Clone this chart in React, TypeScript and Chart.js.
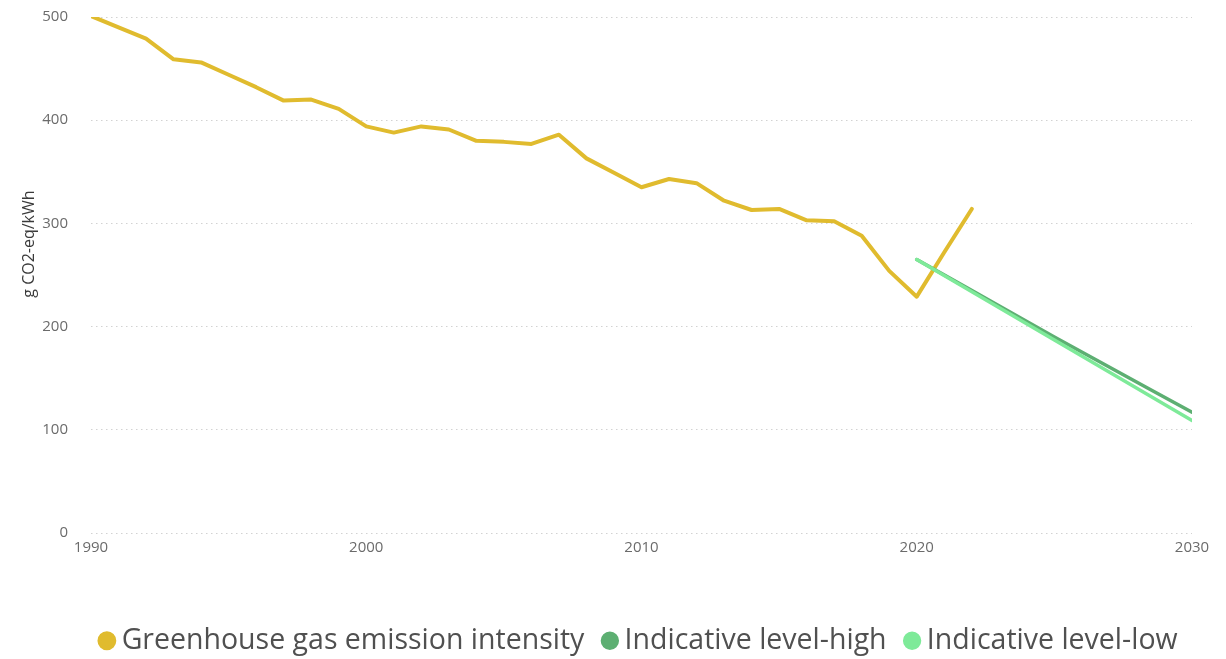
import React, { useEffect, useRef } from "react";
import { Chart, registerables } from "chart.js";

Chart.register(...registerables);

const years = [
  1990, 1991, 1992, 1993, 1994, 1995, 1996, 1997, 1998, 1999,
  2000, 2001, 2002, 2003, 2004, 2005, 2006, 2007, 2008, 2009,
  2010, 2011, 2012, 2013, 2014, 2015, 2016, 2017, 2018, 2019,
  2020, 2021, 2022,
];
const ghgIntensity = [
  501, 490, 479, 459, 456, 444, 432, 419, 420, 411,
  394, 388, 394, 391, 380, 379, 377, 386, 363, 349,
  335, 343, 339, 322, 313, 314, 303, 302, 288, 254,
  229, 272, 314,
];
const indicativeYears = [2020, 2025, 2030];
const indicativeHigh = [265, 190, 117];
const indicativeLow = [265, 187, 109];

const seriesLabels = [
  "Greenhouse gas emission intensity",
  "Indicative level-high",
  "Indicative level-low",
];
const xTickValues = [1990, 2000, 2010, 2020, 2030];
const yTitle = "g CO2-eq/kWh";

const COLORS = ["#E0BB2E", "#5DAF72", "#7EEA99"];
const FONT = "'Open Sans', 'Noto Sans', sans-serif";

const toPoints = (xs: number[], ys: number[]) => xs.map((x, i) => ({ x, y: ys[i] }));

const yTitlePlugin = {
  id: "yTitlePlugin",
  afterDraw(chart: any) {
    const ctx = chart.ctx;
    const area = chart.chartArea;
    ctx.save();
    ctx.translate(29, area.top + (area.bottom - area.top) * 0.44);
    ctx.rotate(-Math.PI / 2);
    ctx.font = `16px ${FONT}`;
    ctx.fillStyle = "#3a3a3a";
    ctx.textAlign = "center";
    ctx.textBaseline = "middle";
    ctx.fillText(yTitle, 0, 0);
    ctx.restore();
  },
};

// centre the legend under the plot area rather than the whole canvas
const legendShiftPlugin = {
  id: "legendShiftPlugin",
  afterLayout(chart: any) {
    const lg = chart.legend;
    if (!lg) return;
    lg.left += 46;
    lg.right += 46;
  },
};

export default function App() {
  const ref = useRef<HTMLCanvasElement | null>(null);

  useEffect(() => {
    if (!ref.current) return;
    const chart = new Chart(ref.current, {
      type: "line",
      data: {
        datasets: [
          {
            label: seriesLabels[0],
            data: toPoints(years, ghgIntensity),
            borderColor: COLORS[0],
            backgroundColor: COLORS[0],
            borderWidth: 4,
            pointRadius: 0,
            borderCapStyle: "round",
            borderJoinStyle: "round",
            order: 2,
          },
          {
            label: seriesLabels[1],
            data: toPoints(indicativeYears, indicativeHigh),
            borderColor: COLORS[1],
            backgroundColor: COLORS[1],
            borderWidth: 3.5,
            pointRadius: 0,
            borderCapStyle: "round",
            cubicInterpolationMode: "monotone",
            order: 1,
          },
          {
            label: seriesLabels[2],
            data: toPoints(indicativeYears, indicativeLow),
            borderColor: COLORS[2],
            backgroundColor: COLORS[2],
            borderWidth: 3.5,
            pointRadius: 0,
            borderCapStyle: "round",
            cubicInterpolationMode: "monotone",
            order: 0,
          },
        ],
      },
      options: {
        animation: false,
        responsive: false,
        maintainAspectRatio: false,
        layout: { padding: { left: 0, right: 34, top: 17, bottom: 0 } },
        scales: {
          x: {
            type: "linear",
            min: 1990,
            max: 2030,
            afterBuildTicks: (scale: any) => {
              scale.ticks = xTickValues.map((v) => ({ value: v }));
            },
            afterFit: (scale: any) => {
              scale.height = 68.5;
            },
            grid: { display: false, drawTicks: false },
            border: { display: false },
            ticks: {
              padding: 6,
              maxRotation: 0,
              color: "#6b6b6b",
              font: { family: FONT, size: 15 },
              callback: (v: any) => String(v),
            },
          },
          y: {
            min: 0,
            max: 500,
            afterFit: (scale: any) => {
              scale.width = 91;
            },
            grid: {
              color: "#d2d2d2",
              lineWidth: 1,
              drawTicks: true,
              tickLength: 20,
              tickColor: "rgba(0,0,0,0)",
            },
            border: { display: false, dash: [1.5, 3.5] },
            ticks: {
              stepSize: 100,
              padding: 3,
              color: "#6b6b6b",
              font: { family: FONT, size: 15 },
            },
          },
        },
        plugins: {
          tooltip: { enabled: false },
          legend: {
            position: "bottom",
            labels: {
              usePointStyle: true,
              pointStyle: "circle",
              boxWidth: 1,
              boxHeight: 10.5,
              padding: 25,
              color: "#505050",
              font: { family: FONT, size: 28.5 },
              sort: (a: any, b: any) => a.datasetIndex - b.datasetIndex,
            },
          },
        },
      },
      plugins: [yTitlePlugin, legendShiftPlugin],
    } as any);
    return () => chart.destroy();
  }, []);

  return (
    <div style={{ position: "fixed", left: 0, top: 0, width: 1226, height: 665, overflow: "hidden", background: "#fff" }}>
      <canvas ref={ref} width={1226} height={665} style={{ display: "block" }} />
    </div>
  );
}
